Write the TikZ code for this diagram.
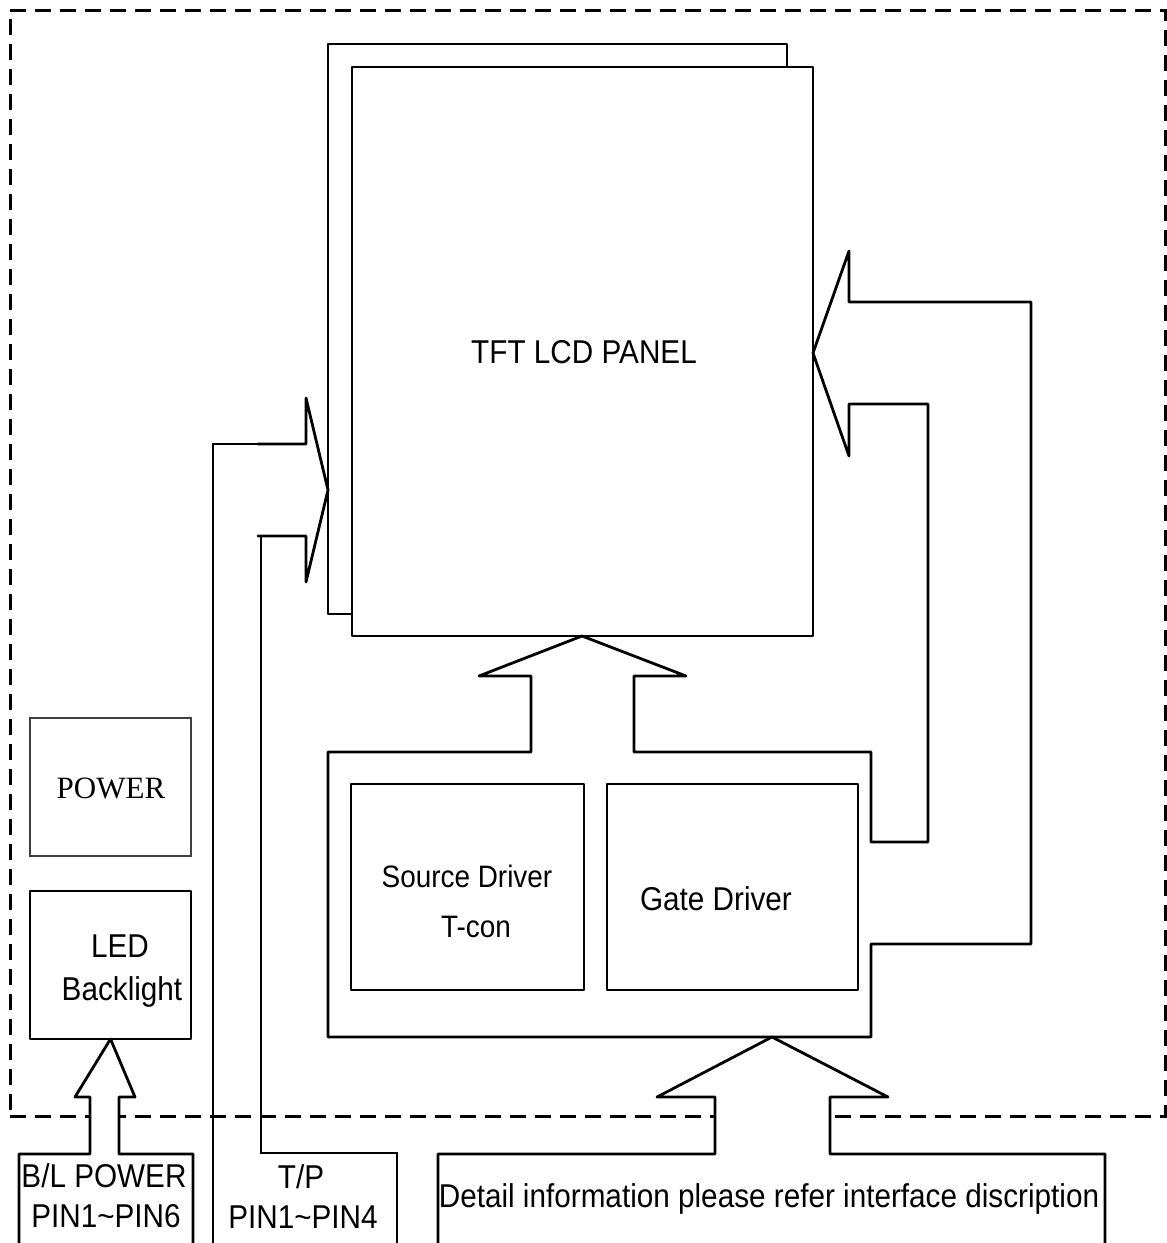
\documentclass[tikz,border=0pt]{standalone}
\usepackage{fontspec}
\setmainfont{Liberation Sans}[FakeStretch=0.9]
\newfontfamily\timesfont{Liberation Serif}
\usetikzlibrary{fit}
\begin{document}
\begin{tikzpicture}[x=0.5pt,y=-0.5pt,
  thickline/.style={line width=1.4pt, line join=round, line cap=round},
  thinline/.style={line width=0.6pt},
  boxnode/.style={draw, thickline, inner sep=0pt, outer sep=0pt, fill=white},
  lbl/.style={font=\fontsize{16.5}{19}\selectfont, inner sep=0pt, anchor=base},
  frameline/.style={dash pattern=on 8pt off 4.5pt, line width=1.5pt}]
\useasboundingbox (0,0) rectangle (1167,1243);
\clip (0,0) rectangle (1167,1243);

% module frame (dashed)
\node[draw, frameline, inner sep=0pt, outer sep=0pt, fit={(10,10)(1165,1116)}] (module) {};

% TFT LCD panel (two stacked sheets)
\node[boxnode, fit={(328,44)(787,614)}] (panelback) {};
\node[boxnode, fit={(352,67)(813,636)}] (panel) {};
\node[lbl] (tft) at (584,363) {TFT LCD PANEL};

% driver board with its block arrows to the panel
\node[inner sep=0pt, outer sep=0pt, fit={(328,752)(871,1037)}] (board) {};
\draw[thickline] (board.north west) -- (531,752) -- (531,676) -- (479,676)
  -- (panel.south -| 582,0) -- (686,676) -- (634,676) -- (634,752)
  -- (board.north east) -- (871,842) -- (928,842) -- (928,404) -- (849,404)
  -- (849,456) -- (panel.east |- 0,353) -- (849,251) -- (849,302) -- (1031,302)
  -- (1031,944) -- (871,944) -- (board.south east) -- (board.south west) -- cycle;

\node[draw, thickline, inner sep=0pt, outer sep=0pt, fit={(351,784)(584,990)}] (source) {};
\node[draw, thickline, inner sep=0pt, outer sep=0pt, fit={(607,784)(858,990)}] (gate) {};
\node[lbl, font=\fontsize{15.5}{18}\selectfont] (srcA) at (467,887) {Source Driver};
\node[lbl, font=\fontsize{15.5}{18}\selectfont] (srcB) at (476,937) {T-con};
\node[lbl] (gatelbl) at (716,910) {Gate Driver};

% power and backlight
\node[draw, thinline, black!75, inner sep=0pt, outer sep=0pt, fit={(30,718)(191,856)}] (power) {};
\node[lbl, font=\timesfont\fontsize{15.5}{18}\selectfont] (powerlbl) at (111,798) {POWER};
\node[boxnode, fit={(30,891)(191,1039)}] (led) {};
\node[lbl] (ledA) at (120,957) {LED};
\node[lbl] (ledB) at (122,1000) {Backlight};

% B/L power connector with block arrow
\coordinate (blL) at (19,1260);
\coordinate (blR) at (193,1260);
\filldraw[thickline, fill=white] (blL) -- (19,1154) -- (90,1154) -- (90,1097) -- (75,1097)
  -- (led.south) -- (135,1097) -- (119,1097) -- (119,1154) -- (193,1154) -- (blR);
\node[lbl] (blA) at (104,1187) {B/L POWER};
\node[lbl] (blB) at (106,1227) {PIN1\textasciitilde PIN6};

% T/P connector with block arrow to the panel
\coordinate (tpL) at (213,1260);
\coordinate (tpR) at (397,1260);
\draw[thinline] (258,444) -- (213,444) -- (tpL);
\draw[thinline] (258,536) -- (261,536) -- (261,1153) -- (397,1153) -- (tpR);
\draw[thickline] (258,444) -- (306,444) -- (306,398) -- (panelback.west |- 0,490)
  -- (306,582) -- (306,536) -- (258,536);
\node[lbl] (tpA) at (301,1188) {T/P};
\node[lbl] (tpB) at (303,1228) {PIN1\textasciitilde PIN4};

% interface connector with block arrow to the board
\coordinate (ifL) at (438,1260);
\coordinate (ifR) at (1105,1260);
\filldraw[thickline, fill=white] (ifL) -- (438,1154) -- (715,1154) -- (715,1097) -- (657,1097)
  -- (board.south -| 772,0) -- (888,1097) -- (830,1097) -- (830,1154) -- (1105,1154) -- (ifR);
\node[lbl] (iflbl) at (769,1207) {Detail information please refer interface discription};
\end{tikzpicture}
\end{document}
